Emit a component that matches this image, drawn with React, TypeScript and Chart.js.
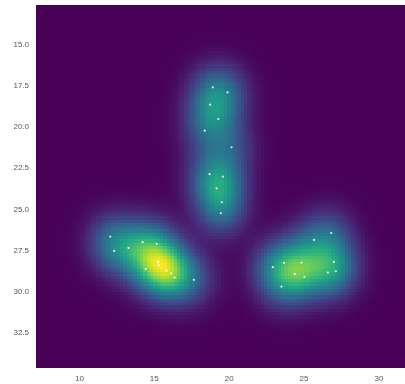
import React, { useEffect, useRef } from "react";
import { Chart, registerables } from "chart.js";

Chart.register(...registerables);

const pointsX = [
  18.91, 19.89, 18.73, 19.27, 18.37, 20.16,
  18.69, 19.58, 19.16, 19.51, 19.44,
  12.06, 14.22, 15.16, 12.32, 13.28, 15.25, 15.32, 14.42, 15.81, 16.12, 16.36, 17.64,
  26.81, 25.67, 23.66, 24.83, 26.99, 22.91, 24.38, 25.03, 26.59, 27.12, 23.49,
];
const pointsY = [
  17.57, 17.88, 18.63, 19.5, 20.21, 21.22,
  22.86, 23.01, 23.72, 24.57, 25.24,
  26.66, 27.0, 27.1, 27.53, 27.35, 28.2, 28.4, 28.63, 28.73, 28.89, 29.15, 29.29,
  26.44, 26.86, 28.26, 28.24, 28.2, 28.52, 28.93, 29.11, 28.85, 28.77, 29.7,
];
const xTicks = [10, 15, 20, 25, 30];
const yTicks = [15, 17.5, 20, 22.5, 25, 27.5, 30, 32.5];
const xRange = [7.1, 31.74];
const yRange = [12.56, 34.66];
const bandwidth = [1.15, 1.15];
const gridSize = 110;

const viridis = [
  [72, 1, 86], [72, 40, 120], [62, 73, 137], [49, 104, 142], [38, 130, 142],
  [31, 158, 137], [53, 183, 121], [110, 206, 88], [181, 222, 43], [253, 231, 37],
];

function cmap(t: number): number[] {
  t = Math.max(0, Math.min(1, t));
  const p = t * (viridis.length - 1);
  const i = Math.min(viridis.length - 2, Math.floor(p));
  const f = p - i;
  const a = viridis[i], b = viridis[i + 1];
  return a.map((v, k) => Math.round(v + (b[k] - v) * f));
}

const heatmapPlugin = {
  id: "kdeHeatmap",
  beforeDatasetsDraw(chart: any) {
    const { ctx, scales } = chart;
    const xs = scales.x, ys = scales.y;
    const dx = (xRange[1] - xRange[0]) / gridSize;
    const dy = (yRange[1] - yRange[0]) / gridSize;
    const vals: number[] = [];
    let max = 0;
    for (let j = 0; j < gridSize; j++) {
      for (let i = 0; i < gridSize; i++) {
        const cx = xRange[0] + (i + 0.5) * dx;
        const cy = yRange[0] + (j + 0.5) * dy;
        let s = 0;
        for (let k = 0; k < pointsX.length; k++) {
          const u = (cx - pointsX[k]) / bandwidth[0];
          const v = (cy - pointsY[k]) / bandwidth[1];
          s += Math.exp(-0.5 * (u * u + v * v));
        }
        vals.push(s);
        if (s > max) max = s;
      }
    }
    const off = document.createElement("canvas");
    off.width = gridSize;
    off.height = gridSize;
    const octx = off.getContext("2d")!;
    const img = octx.createImageData(gridSize, gridSize);
    for (let j = 0; j < gridSize; j++) {
      for (let i = 0; i < gridSize; i++) {
        const c = cmap(vals[j * gridSize + i] / max);
        const idx = (j * gridSize + i) * 4;
        img.data[idx] = c[0];
        img.data[idx + 1] = c[1];
        img.data[idx + 2] = c[2];
        img.data[idx + 3] = 255;
      }
    }
    octx.putImageData(img, 0, 0);
    const x0 = xs.getPixelForValue(xRange[0]);
    const x1 = xs.getPixelForValue(xRange[1]);
    const y0 = ys.getPixelForValue(yRange[0]);
    const y1 = ys.getPixelForValue(yRange[1]);
    ctx.save();
    ctx.imageSmoothingEnabled = false;
    ctx.drawImage(off, Math.min(x0, x1), Math.min(y0, y1), Math.abs(x1 - x0), Math.abs(y1 - y0));
    ctx.restore();
  },
};

export default function App() {
  const ref = useRef<HTMLCanvasElement>(null);
  useEffect(() => {
    if (!ref.current) return;
    const chart = new Chart(ref.current, {
      type: "scatter",
      data: {
        datasets: [
          {
            data: pointsX.map((x, i) => ({ x, y: pointsY[i] })),
            pointRadius: 1.1,
            pointBackgroundColor: "rgba(255,255,255,0.85)",
            pointBorderWidth: 0,
          },
        ],
      },
      options: {
        animation: false,
        responsive: false,
        maintainAspectRatio: false,
        layout: { padding: { top: 5, right: 0, left: 0, bottom: 0 } },
        plugins: { legend: { display: false }, tooltip: { enabled: false } },
        scales: {
          x: {
            type: "linear",
            min: xRange[0],
            max: xRange[1],
            grid: { display: false, drawTicks: false },
            border: { display: false },
            afterBuildTicks: (s: any) => { s.ticks = xTicks.map((v) => ({ value: v })); },
            afterFit: (s: any) => { s.height = 16; s.paddingLeft = 0; s.paddingRight = 0; },
            ticks: {
              color: "#555",
              font: { family: "'Liberation Sans', Arial, sans-serif", size: 8 },
              padding: 6,
              maxRotation: 0,
              callback: (v: any) => String(v),
            },
          },
          y: {
            type: "linear",
            reverse: true,
            min: yRange[0],
            max: yRange[1],
            grid: { display: false, drawTicks: false },
            border: { display: false },
            afterBuildTicks: (s: any) => { s.ticks = yTicks.map((v) => ({ value: v })); },
            afterFit: (s: any) => { s.width = 36; s.paddingTop = 0; s.paddingBottom = 0; },
            ticks: {
              color: "#555",
              font: { family: "'Liberation Sans', Arial, sans-serif", size: 8 },
              padding: 7,
              callback: (v: any) => Number(v).toFixed(1),
            },
          },
        },
      },
      plugins: [heatmapPlugin],
    });
    return () => chart.destroy();
  }, []);
  return (
    <div style={{ position: "absolute", left: 0, top: 0, width: 405, height: 384, background: "#fff", overflow: "hidden" }}>
      <canvas ref={ref} width={409} height={384} style={{ width: 409, height: 384 }} />
    </div>
  );
}
